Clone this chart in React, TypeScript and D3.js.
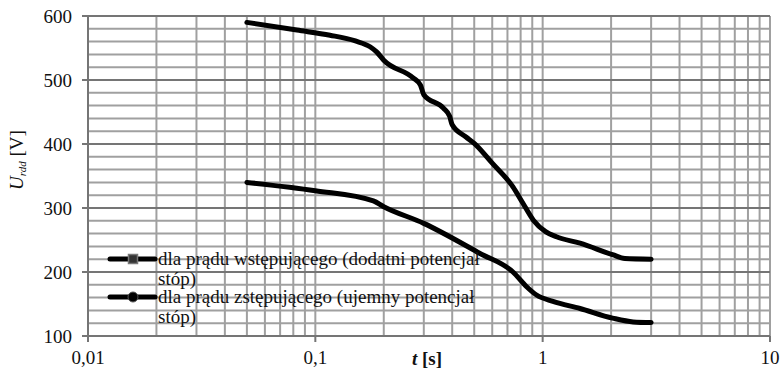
import * as d3 from "d3";
import { useEffect, useRef } from "react";

// dla prądu wstępującego (dodatni potencjał stóp)
const upT = [0.05, 0.083, 0.116, 0.15, 0.174, 0.186, 0.2, 0.27, 0.29, 0.3, 0.366, 0.39, 0.4, 0.46, 0.5, 0.6, 0.74, 0.82, 0.91, 1.03, 1.15, 1.46, 2.03, 2.3, 3];
const upU = [590, 578, 570, 561, 552, 544, 531, 503, 492, 477, 456, 443, 430, 411, 401, 370, 333, 307, 281, 263, 255, 245, 227, 221, 220];

// dla prądu zstępującego (ujemny potencjał stóp)
const downT = [0.05, 0.1, 0.18, 0.2, 0.3, 0.53, 0.74, 0.85, 0.94, 1.11, 1.46, 2.03, 2.5, 3];
const downU = [340, 327, 311, 302, 276, 229, 200, 177, 164, 154, 143, 128, 122, 121];

const xTicks = [0.01, 0.1, 1, 10];
const xTickLabels = ["0,01", "0,1", "1", "10"];
const yTicks = [100, 200, 300, 400, 500, 600];

const legendLines = [
  ["dla prądu wstępującego (dodatni potencjał", "stóp)"],
  ["dla prądu zstępującego (ujemny potencjał", "stóp)"],
];

const App = () => {
  const ref = useRef<SVGSVGElement | null>(null);

  useEffect(() => {
    document.body.style.margin = "0";
    const width = 781;
    const height = 370;
    const margin = { top: 16, right: 11, bottom: 34, left: 88 };
    const fs = 19;

    const svg = d3.select(ref.current);
    svg.selectAll("*").remove();

    const x = d3
      .scaleLog()
      .domain([0.01, 10])
      .range([margin.left, width - margin.right]);
    const y = d3
      .scaleLinear()
      .domain([100, 600])
      .range([height - margin.bottom, margin.top]);

    // vertical grid
    const vLines: number[] = [];
    for (let e = -2; e <= 0; e++) {
      for (let k = 1; k <= 9; k++) vLines.push(k * Math.pow(10, e));
    }
    vLines.push(10);

    svg
      .append("g")
      .selectAll("line")
      .data(vLines)
      .enter()
      .append("line")
      .attr("x1", (d) => x(d))
      .attr("x2", (d) => x(d))
      .attr("y1", y(100))
      .attr("y2", y(600))
      .attr("stroke", "#a0a0a0")
      .attr("stroke-width", 2);

    // horizontal grid
    const hLines = d3.range(100, 601, 20);
    svg
      .append("g")
      .selectAll("line")
      .data(hLines)
      .enter()
      .append("line")
      .attr("x1", x(0.01))
      .attr("x2", x(10))
      .attr("y1", (d) => y(d))
      .attr("y2", (d) => y(d))
      .attr("stroke", (d) => (d % 100 === 0 ? "#757575" : "#a0a0a0"))
      .attr("stroke-width", 2);

    // axes lines
    svg
      .append("line")
      .attr("x1", x(0.01))
      .attr("x2", x(0.01))
      .attr("y1", y(100))
      .attr("y2", y(600))
      .attr("stroke", "#757575")
      .attr("stroke-width", 2);
    svg
      .append("line")
      .attr("x1", x(0.01))
      .attr("x2", x(10))
      .attr("y1", y(100))
      .attr("y2", y(100))
      .attr("stroke", "#757575")
      .attr("stroke-width", 2);

    // ticks
    svg
      .append("g")
      .selectAll("line")
      .data(yTicks)
      .enter()
      .append("line")
      .attr("x1", x(0.01) - 6)
      .attr("x2", x(0.01))
      .attr("y1", (d) => y(d))
      .attr("y2", (d) => y(d))
      .attr("stroke", "#757575")
      .attr("stroke-width", 2);
    svg
      .append("g")
      .selectAll("line")
      .data(xTicks)
      .enter()
      .append("line")
      .attr("x1", (d) => x(d))
      .attr("x2", (d) => x(d))
      .attr("y1", y(100))
      .attr("y2", y(100) + 6)
      .attr("stroke", "#757575")
      .attr("stroke-width", 2);

    // tick labels
    svg
      .append("g")
      .selectAll("text")
      .data(yTicks)
      .enter()
      .append("text")
      .attr("x", 72)
      .attr("y", (d) => y(d) + 7)
      .attr("text-anchor", "end")
      .attr("font-size", fs)
      .attr("fill", "#111")
      .text((d) => d);
    svg
      .append("g")
      .selectAll("text")
      .data(xTicks)
      .enter()
      .append("text")
      .attr("x", (d) => x(d))
      .attr("y", 364)
      .attr("text-anchor", "middle")
      .attr("font-size", fs)
      .attr("fill", "#111")
      .text((d, i) => xTickLabels[i]);

    // axis titles
    const xt = svg
      .append("text")
      .attr("x", 427)
      .attr("y", 365)
      .attr("text-anchor", "middle")
      .attr("font-size", fs)
      .attr("font-weight", "bold")
      .attr("fill", "#111");
    xt.append("tspan").attr("font-style", "italic").text("t");
    xt.append("tspan").text(" [s]");

    const yt = svg
      .append("text")
      .attr("transform", "translate(23, 160) rotate(-90)")
      .attr("text-anchor", "middle")
      .attr("font-size", fs)
      .attr("fill", "#111");
    yt.append("tspan").attr("font-style", "italic").text("U");
    yt.append("tspan")
      .attr("font-style", "italic")
      .attr("font-size", 11)
      .attr("dy", 3)
      .text("rdd");
    yt.append("tspan").attr("dy", -3).text(" [V]");

    // curves
    const line = d3
      .line<[number, number]>()
      .x((d) => x(d[0]))
      .y((d) => y(d[1]))
      .curve(d3.curveMonotoneX);

    const series = [
      upT.map((t, i) => [t, upU[i]] as [number, number]),
      downT.map((t, i) => [t, downU[i]] as [number, number]),
    ];
    svg
      .append("g")
      .selectAll("path")
      .data(series)
      .enter()
      .append("path")
      .attr("d", (d) => line(d))
      .attr("fill", "none")
      .attr("stroke", "#000")
      .attr("stroke-width", 5)
      .attr("stroke-linecap", "round")
      .attr("stroke-linejoin", "round");

    // legend
    const legendY = [259, 297];
    const lg = svg.append("g");
    legendLines.forEach((lines, i) => {
      const cy = legendY[i];
      lg.append("line")
        .attr("x1", 110)
        .attr("x2", 155)
        .attr("y1", cy)
        .attr("y2", cy)
        .attr("stroke", "#000")
        .attr("stroke-width", 5)
        .attr("stroke-linecap", "round");
      if (i === 0) {
        lg.append("rect")
          .attr("x", 128.5)
          .attr("y", cy - 4.5)
          .attr("width", 9)
          .attr("height", 9)
          .attr("fill", "#333")
          .attr("stroke", "#777")
          .attr("stroke-width", 1.5);
      } else {
        lg.append("circle")
          .attr("cx", 133)
          .attr("cy", cy)
          .attr("r", 5)
          .attr("fill", "#000")
          .attr("stroke", "#555")
          .attr("stroke-width", 1);
      }
      lines.forEach((txt, j) => {
        lg.append("text")
          .attr("x", 158)
          .attr("y", cy + 6 + j * 20)
          .attr("font-size", fs)
          .attr("fill", "#111")
          .text(txt);
      });
    });
  }, []);

  return (
    <svg
      ref={ref}
      width={781}
      height={370}
      style={{ display: "block", fontFamily: "'Liberation Serif', 'DejaVu Serif', serif" }}
    />
  );
};

export default App;
